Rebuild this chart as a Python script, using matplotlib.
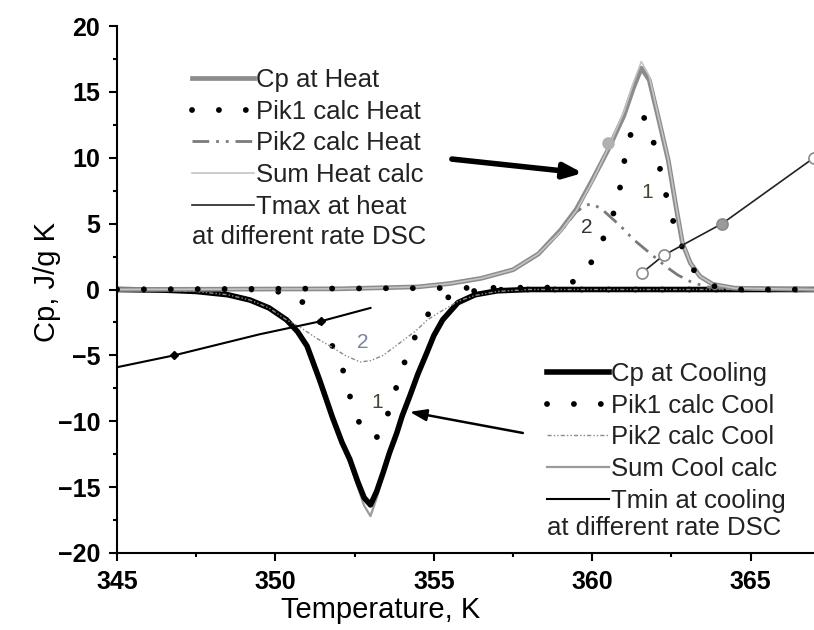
import matplotlib
matplotlib.use("Agg")
import matplotlib.pyplot as plt
from matplotlib.ticker import MultipleLocator

plt.rcParams['font.family'] = ['Liberation Sans', 'DejaVu Sans']

# ---------------- heating run ----------------
t_cp_heat = [345, 352, 354.5, 355.5, 356.5, 357.5, 358.3, 359.0, 359.5, 360.0, 360.5,
             361.0, 361.3, 361.55, 361.8, 362.1, 362.4, 362.65, 362.85, 363.1, 363.4,
             363.8, 364.5, 367]
cp_heat = [0, 0.05, 0.2, 0.45, 0.85, 1.5, 2.7, 4.5, 6.1, 8.3, 10.6,
           13.2, 15.3, 16.8, 15.9, 12.9, 9.8, 6.2, 3.5, 2.0, 1.0,
           0.4, 0.1, 0]

t_sum_heat = [345, 352, 354.5, 355.5, 356.5, 357.5, 358.3, 359.0, 359.5, 360.0, 360.5,
              361.0, 361.3, 361.55, 361.8, 362.1, 362.4, 362.65, 362.85, 363.1, 363.4,
              363.8, 364.5, 367]
sum_heat = [0, 0.05, 0.2, 0.45, 0.85, 1.5, 2.7, 4.4, 6.0, 8.2, 10.7,
            13.5, 15.7, 17.3, 16.2, 13.0, 9.9, 6.3, 3.6, 2.0, 1.0,
            0.4, 0.1, 0]

t_pik1_heat = [345, 359.0, 359.4, 359.8, 360.1, 360.5, 360.8, 360.95, 361.1, 361.4,
               361.55, 361.7, 362.0, 362.2, 362.4, 362.65, 363.0, 363.4, 363.9, 364.5, 367]
pik1_heat = [0, 0.15, 0.6, 1.5, 2.5, 4.7, 6.6, 8.8, 11.0, 13.0,
             13.2, 12.9, 10.7, 8.5, 6.5, 4.4, 2.2, 0.8, 0.2, 0, 0]

t_pik2_heat = [345, 352, 354.5, 355.5, 356.5, 357.5, 358.3, 359.0, 359.5, 359.8, 360.0,
               360.3, 360.9, 361.3, 361.7, 362.35, 362.7, 363.1, 363.6, 364.2, 367]
pik2_heat = [0, 0.05, 0.2, 0.45, 0.85, 1.5, 2.7, 4.4, 5.9, 6.4, 6.5,
             6.1, 4.8, 3.8, 3.0, 1.7, 1.1, 0.6, 0.2, 0.05, 0]

# peak temperature of heating at different DSC rates
t_max_heat = [361.56, 362.26, 364.1, 367.0]
cp_max_heat = [1.25, 2.6, 5.0, 10.0]
t_max_extra = [360.5]
cp_max_extra = [11.1]

# ---------------- cooling run ----------------
t_cp_cool = [345, 346.5, 347.5, 348.5, 349.2, 349.8, 350.35, 350.7, 351.0, 351.4, 351.8,
             352.1, 352.35, 352.6, 352.8, 353.0, 353.2, 353.4, 353.6, 353.83, 354.0,
             354.24, 354.5, 354.78, 355.0, 355.28, 355.76, 356.3, 357.0, 358.0, 367]
cp_cool = [0, -0.05, -0.15, -0.4, -0.8, -1.4, -2.3, -3.2, -4.3, -6.9, -9.7,
           -11.6, -12.9, -14.6, -15.8, -16.35, -15.3, -13.9, -12.4, -10.9, -9.6,
           -8.1, -6.4, -4.8, -3.5, -2.3, -1.0, -0.4, -0.1, 0, 0]

t_sum_cool = [345, 346.5, 347.5, 348.5, 349.2, 349.8, 350.35, 350.7, 351.0, 351.4, 351.8,
              352.1, 352.35, 352.6, 352.8, 353.0, 353.2, 353.4, 353.6, 353.83, 354.0,
              354.24, 354.5, 354.78, 355.0, 355.28, 355.76, 356.3, 357.0, 358.0, 367]
sum_cool = [0, -0.05, -0.15, -0.4, -0.8, -1.4, -2.3, -3.2, -4.3, -6.9, -9.8,
            -11.8, -13.2, -15.0, -16.4, -17.2, -15.8, -14.1, -12.5, -11.0, -9.7,
            -8.2, -6.5, -4.9, -3.6, -2.4, -1.0, -0.4, -0.1, 0, 0]

t_pik1_cool = [345, 349.5, 350.2, 350.7, 351.3, 351.8, 352.2, 352.4, 352.76, 353.1,
               353.3, 353.6, 353.87, 354.18, 354.56, 354.9, 355.25, 355.8, 356.5, 357.5, 367]
pik1_cool = [0, 0, -0.2, -0.6, -2.0, -4.3, -6.5, -8.6, -10.8, -11.3,
             -11.1, -9.1, -7.0, -4.8, -2.8, -1.6, -0.8, -0.25, -0.05, 0, 0]

t_pik2_cool = [345, 346.5, 347.5, 348.5, 349.2, 349.8, 350.35, 350.8, 351.3, 351.8,
               352.2, 352.67, 353.0, 353.4, 353.9, 354.45, 354.8, 355.2, 355.76, 356.3,
               357.0, 358.0, 367]
pik2_cool = [0, -0.05, -0.15, -0.4, -0.8, -1.4, -2.3, -2.9, -3.7, -4.4,
             -5.0, -5.5, -5.4, -5.0, -4.1, -3.1, -2.3, -1.7, -0.9, -0.45,
             -0.15, 0, 0]

# minimum temperature of cooling at different DSC rates
t_min_cool = [345, 346.8, 349.5, 351.45, 353.0]
cp_min_cool = [-5.9, -5.0, -3.4, -2.4, -1.4]

heat_labels = ['Cp at Heat', 'Pik1 calc Heat', 'Pik2 calc Heat', 'Sum Heat calc', 'Tmax at heat']
cool_labels = ['Cp at Cooling', 'Pik1 calc Cool', 'Pik2 calc Cool', 'Sum Cool calc', 'Tmin at cooling']
rate_note = 'at different rate DSC'

x_ticks = [345, 350, 355, 360, 365]
y_ticks = [-20, -15, -10, -5, 0, 5, 10, 15, 20]

W, H = 814, 630
fig = plt.figure(figsize=(W / 100, H / 100), dpi=100)
ax = fig.add_axes([117 / W, 1 - 553 / H, (W - 117) / W, (553 - 26) / H])

dots = (0, (0.01, 4.6))

# cooling curves
l_cp_c, = ax.plot(t_cp_cool, cp_cool, color='black', lw=4.0, solid_joinstyle='round', zorder=3)
l_sum_c, = ax.plot(t_sum_cool, sum_cool, color='#9a9a9a', lw=1.6, zorder=2)
l_p1_c, = ax.plot(t_pik1_cool, pik1_cool, color='black', lw=4.2, linestyle=dots,
                  dash_capstyle='round', zorder=4)
l_p2_c, = ax.plot(t_pik2_cool, pik2_cool, color='#8a8a8a', lw=1.0,
                  linestyle=(0, (3, 1.5, 1, 1.5, 1, 1.5)), zorder=4)
l_tmin, = ax.plot(t_min_cool, cp_min_cool, color='black', lw=1.5, zorder=5)
ax.plot(t_min_cool[1:4:2], cp_min_cool[1:4:2], linestyle='none', marker='D',
        ms=4, color='black', zorder=5)

# heating curves
l_p2_h, = ax.plot(t_pik2_heat, pik2_heat, color='#7a7a7a', lw=2.0,
                  linestyle=(0, (6, 2.5, 1, 2.5, 1, 2.5)), zorder=5.5)
l_cp_h, = ax.plot(t_cp_heat, cp_heat, color='#8c8c8c', lw=3.4, solid_joinstyle='round', zorder=6)
l_sum_h, = ax.plot(t_sum_heat, sum_heat, color='#c4c4c4', lw=1.2, zorder=7)
l_p1_h, = ax.plot(t_pik1_heat, pik1_heat, color='black', lw=4.2, linestyle=dots,
                  dash_capstyle='round', zorder=8)
l_tmax, = ax.plot(t_max_heat, cp_max_heat, color='#222222', lw=1.2, zorder=9)
face = ['white', 'white', '#9a9a9a', 'white']
for tx, cy, fc in zip(t_max_heat, cp_max_heat, face):
    ax.plot([tx], [cy], linestyle='none', marker='o', ms=8, mfc=fc,
            mec='#8a8a8a', mew=1.2, zorder=10, clip_on=False)
ax.plot(t_max_extra, cp_max_extra, linestyle='none', marker='o', ms=8,
        mfc='#b0b0b0', mec='#b0b0b0', zorder=10)

# peak numbers
ax.text(361.75, 7.4, '1', fontsize=15, color='#4a4232', ha='center', va='center', zorder=11)
ax.text(359.83, 4.7, '2', fontsize=15, color='#333333', ha='center', va='center', zorder=11)
ax.text(353.2, -8.6, '1', fontsize=15, color='#4a4232', ha='center', va='center', zorder=11)
ax.text(352.76, -4.05, '2', fontsize=15, color='#7586a0', ha='center', va='center', zorder=11)

# arrows
ax.annotate('', xy=(359.7, 8.84), xytext=(355.57, 9.9),
            arrowprops=dict(arrowstyle='-|>,head_length=1.1,head_width=0.45',
                            lw=4, color='black', shrinkA=0, shrinkB=0), zorder=12)
ax.annotate('', xy=(354.24, -9.29), xytext=(357.81, -10.89),
            arrowprops=dict(arrowstyle='-|>,head_length=1.0,head_width=0.35',
                            lw=1.8, color='black', shrinkA=0, shrinkB=0), zorder=12)

# axes styling
ax.set_xlim(345, 367)
ax.set_ylim(-20, 20)
ax.set_xticks(x_ticks)
ax.set_yticks(y_ticks)
ax.xaxis.set_minor_locator(MultipleLocator(2.5))
ax.yaxis.set_minor_locator(MultipleLocator(2.5))
for s in ['top', 'right']:
    ax.spines[s].set_visible(False)
for s in ['left', 'bottom']:
    ax.spines[s].set_linewidth(1.5)
ax.tick_params(which='major', direction='out', length=6, width=1.5, pad=6,
               labelsize=18)
ax.tick_params(which='minor', direction='out', length=3, width=1.5)
for lab in ax.get_xticklabels() + ax.get_yticklabels():
    lab.set_fontweight('bold')

fig.text(381 / W, 1 - 610 / H, 'Temperature, K', fontsize=21, ha='center', va='center')
fig.text(47 / W, 1 - 282 / H, 'Cp, J/g K', fontsize=21, rotation=90,
         ha='center', va='center')

# legends
leg_kw = dict(frameon=False, fontsize=18.5, handlelength=2.4, handletextpad=0.1,
              labelspacing=0.3, borderpad=0, borderaxespad=0, loc='upper left')
leg1 = ax.legend([l_cp_h, l_p1_h, l_p2_h, l_sum_h, l_tmax], heat_labels,
                 bbox_to_anchor=(192 / W, 1 - 68 / H), bbox_transform=fig.transFigure, **leg_kw)
for t in leg1.get_texts():
    t.set_color('#222222')
ax.add_artist(leg1)
leg2 = ax.legend([l_cp_c, l_p1_c, l_p2_c, l_sum_c, l_tmin], cool_labels,
                 bbox_to_anchor=(547 / W, 1 - 362 / H), bbox_transform=fig.transFigure, **leg_kw)
for t in leg2.get_texts():
    t.set_color('#222222')
fig.text(192 / W, 1 - 237 / H, rate_note, fontsize=18.5, color='#222222', ha='left', va='center')
fig.text(547 / W, 1 - 528 / H, rate_note, fontsize=18.5, color='#222222', ha='left', va='center')

fig.savefig('out.png', dpi=100)
